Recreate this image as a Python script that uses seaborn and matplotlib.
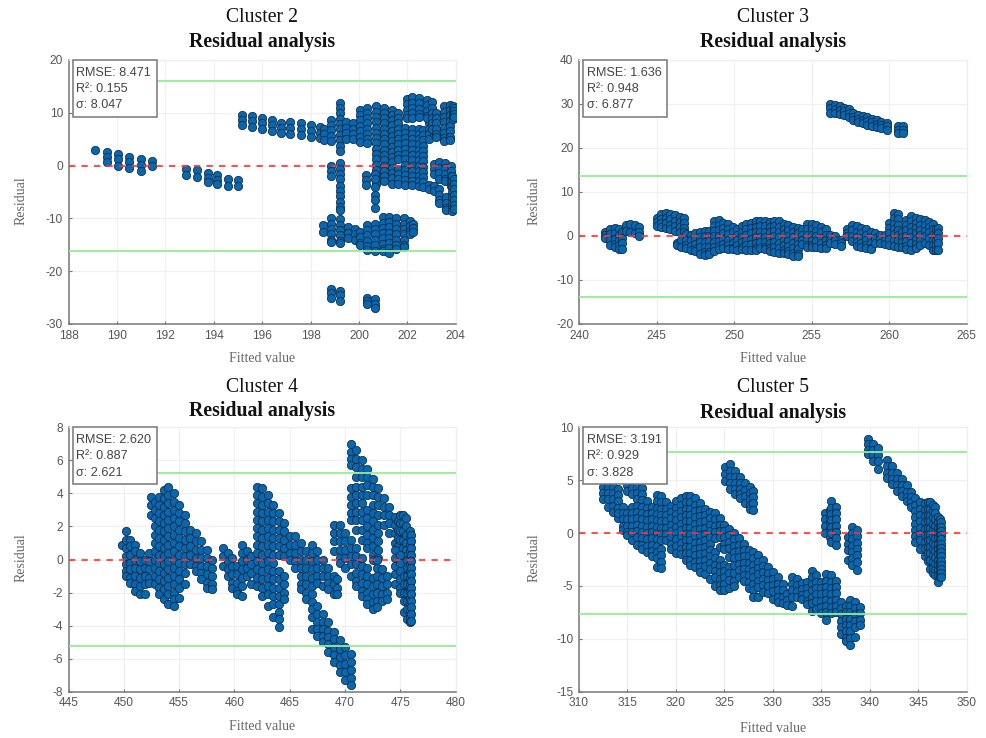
import matplotlib
matplotlib.use("Agg")
import matplotlib.pyplot as plt
from matplotlib.patches import Rectangle
import pandas as pd
import seaborn as sns

# Each entry: (fitted value, [residuals])
c2_columns = [
 (189.1,[3.0]),(189.6,[2.5,1.6,0.6]),(190.05,[2.2,1.2,0.0]),(190.5,[1.7,0.6,-0.5]),(191.0,[1.2,0.1,-1.0]),(191.45,[0.8,0.0]),
 (192.85,[-0.7,-1.7]),(193.3,[-0.8,-2.1]),(193.75,[-1.4,-2.3,-3.2]),(194.15,[-1.8,-2.7,-3.5]),(194.6,[-2.5,-3.9]),(195.0,[-2.7,-3.9]),
 (195.15,[9.6,8.6,7.7]),(195.6,[9.4,8.4,7.3]),(196.0,[9.0,8.0,7.0]),(196.4,[8.6,7.6,6.6]),(196.8,[8.1,7.1,6.2]),(197.15,[8.3,7.1,5.9]),
 (197.6,[8.0,6.9,5.8]),(198.0,[7.6,6.5,5.4]),(198.4,[7.3,6.2,5.2]),(198.55,[7.0,5.9,4.8]),(198.85,[8.7,7.7,6.7,5.6,4.6]),
 (199.2,[11.9,10.9,9.9,8.9,7.9,6.9,5.8,4.8,3.8,2.7]),(199.45,[8.3,7.2,6.1,5.0]),(199.75,[8.0,7.0,6.0,5.0]),
 (200.05,[10.6,9.6,8.6,7.5,6.5,5.5,4.5]),(200.35,[11.0,10,9,8,7,6,5,4.2]),
 (200.7,[11.2,10.2,9.2,8.2,7.2,6.2,5.2,4.2,3.2,2.2,1.2,0.2,-0.8,-1.8,-2.8,-3.5]),
 (201.05,[11.0,10,9,8,7,6,5,4,3,2,1,0,-1,-2,-3]),
 (201.35,[10.6,9.6,8.6,7.6,6.6,5.6,4.6,3.6,2.6,1.6,0.6,-0.4,-1.4,-2.4,-3.4]),
 (201.6,[10.0,9,8,7,6,5,4,3,2,1.2,-0.6,-1.6,-2.6,-3.4]),
 (201.9,[7.2,6.2,5.2,4.2,3.2,2.2,1.2,0.2,-0.8,-1.8,-2.8,-3.7]),(202.2,[7.0,6,5,4,3,2,1,0,-1,-2,-3,-3.6]),
 (202.5,[7.0,6,5,4,3,2,1,0,-1,-2,-3,-3.8]),(202.65,[6.8,5.8,4.8,3.8,2.8,1.8,0.8,-0.2,-1.2,-2.2,-3.2,-4.0]),
 (202.9,[8.0,7,6,5,-3.6,-4.5]),(203.1,[9,8,7,6,-3.8,-4.8]),(203.3,[-4.5,-5.5,-6.5,-7.0]),(203.6,[-6,-7,-8,-8.5]),
 (202.0,[12.6,11.6,10.6,9.6,9.0]),(202.2,[12.9,11.9,10.9,9.9,9.0]),(202.5,[12.8,11.8,10.8,9.8,9.2]),(202.8,[12.4,11.4,10.4,9.4,9.0]),
 (203.0,[12.0,11,10,9,8,7]),(203.2,[10,9,8,7,6,5.5]),(203.5,[11.2,10.2,9.2,8.2,7.2,6.2,5.2,4.6]),(203.75,[11.5,10.5,9.5,8.5,7.5,6.5,5.5,4.8]),
 (203.9,[11.2,10.6,10,9.4,8.8]),(203.95,[11,10.4,9.8,9.2]),
 (203.1,[0.3,-0.6,-1.5]),(203.3,[0.6,-0.4,-1.4,-2.5]),(203.55,[0.5,-0.5,-1.5,-2.5,-3.0]),(203.8,[0,-1,-2,-3,-3.8]),
 (203.85,[-2,-3,-4,-5,-6,-7,-8,-8.6]),(203.95,[-2.5,-3.5,-4.5,-5.5,-6.5,-7.5,-8.3]),
 (198.85,[0,-1,-1.9]),(199.2,[0.4,-0.6,-1.6,-2.5]),(199.2,[-3.8,-4.8,-5.8,-6.8,-7.8,-8.5]),
 (200.3,[-1.8,-2.8,-3.7]),(200.65,[-1.5,-2.5,-4.0]),(200.65,[-5.6,-6.6,-8.0]),
 (198.5,[-11.3,-12.6]),(198.85,[-10,-11,-12,-13,-14,-14.5]),(199.2,[-10.2,-11.2,-12.2,-13.2,-14.2,-14.6]),
 (199.55,[-11.7,-12.7,-13.8]),(199.85,[-12,-13,-14]),(200.05,[-12.6,-13.6,-14.6,-15]),
 (200.35,[-11.2,-12.2,-13.2,-14.2,-15.2,-16]),(200.65,[-11,-12,-13,-14,-15,-16.2]),
 (201.0,[-9.8,-10.8,-11.8,-12.8,-13.8,-14.8,-15.8,-16.2]),(201.25,[-9.7,-10.7,-11.7,-12.7,-13.7,-14.7,-15.7,-16.5]),
 (201.55,[-10,-11,-12,-13,-14,-15,-15.8]),(201.85,[-10,-11,-12,-13,-14,-15,-15.5]),(202.1,[-10.4,-11.4,-12.4,-13]),(202.25,[-11,-11.8,-12.6]),
 (198.85,[-23.4,-24.2,-25]),(199.2,[-23.7,-24.6,-25.6]),(200.35,[-25,-25.6,-26.3]),(200.65,[-25.3,-26.2,-27]),
]
c3_columns = [
 (241.7,[1,0.2,-0.5]),(242.0,[1.5,0.4,-0.8,-2]),(242.3,[1.8,0.6,-0.6,-1.8,-2.5]),(242.6,[1.5,0.3,-0.9,-2.1,-3]),(242.8,[0.8,-0.4,-1.6,-3]),
 (243.0,[2.6,1.2]),(243.3,[2.8,1.0]),(243.6,[2.5,0.6]),(243.9,[2.0,1,0]),
 (245.0,[4,3.1,2.3]),(245.3,[5,3.9,2.9,2.1]),(245.6,[5.2,4,2.9,1.8]),(245.9,[4.9,3.8,2.6,1.5]),(246.2,[4.7,3.5,2.3,1.2]),(246.5,[4.3,3.1,2,1]),(246.75,[4,2.9,1.9,0.9]),
 (246.3,[-1.7,-2]),(246.6,[-1,-2.5]),(246.9,[0.4,-0.8,-2,-2.8]),(247.2,[0.2,-1,-2.2,-3.1]),(247.5,[0.6,-0.6,-1.8,-3,-3.3]),(247.8,[1,-0.2,-1.4,-2.6,-4]),
 (248.1,[1.1,-0.1,-1.3,-2.5,-3.7,-4.3]),(248.4,[1.2,0,-1.2,-2.4,-3.6,-4]),(248.7,[3.5,2.3,1.1,-0.1,-1.3,-2.5,-3.3]),(249.0,[3.7,2.5,1.3,0.1,-1.1,-2.3,-3]),
 (249.3,[3,1.8,0.6,-0.6,-1.8,-2.8]),(249.6,[2.8,1.6,0.4,-0.8,-2,-3]),(249.9,[2,0.8,-0.4,-1.6,-2.8,-3]),(250.2,[1.5,0.3,-0.9,-2.1,-3.1]),
 (250.5,[2.2,1,-0.2,-1.4,-2.6,-3]),(250.8,[2.7,1.5,0.3,-0.9,-2.1,-3.2]),(251.1,[3,1.8,0.6,-0.6,-1.8,-3.2]),(251.4,[3.3,2.1,0.9,-0.3,-1.5,-2.7,-3.2]),
 (251.7,[3.4,2.2,1,-0.2,-1.4,-2.8]),(252.0,[3.4,2.2,1,-0.2,-1.4,-2.6,-3]),(252.3,[3.2,2,0.8,-0.4,-1.6,-2.8,-3.3]),(252.6,[3.5,2.3,1.1,-0.1,-1.3,-2.5,-3.7]),
 (252.9,[3.3,2.1,0.9,-0.3,-1.5,-2.7,-3.8]),(253.2,[2.8,1.6,0.4,-0.8,-2,-3.2,-3.8]),(253.5,[2.5,1.3,0.1,-1.1,-2.3,-3.5,-4.2]),(253.8,[2.1,0.9,-0.3,-1.5,-2.7,-3.9,-4.6]),
 (254.1,[1.8,0.6,-0.6,-1.8,-3,-4.2,-4.6]),(254.4,[1.5,0.3,-0.9,-1.8]),(254.7,[2.7,1.5,0.3,-0.9,-2.1,-2.5]),(255.0,[2.7,1.5,0.3,-0.9,-2.1,-2.6]),
 (255.3,[2.4,1.2,0,-1.2,-2.6]),(255.6,[2,0.8,-0.4,-1.6,-2.8]),(255.9,[1.5,0.3,-0.9,-2.1,-2.8]),(256.2,[0.3,-0.9,-1.5]),(256.5,[0,-1,-1.8]),(256.9,[-0.8,-1.6,-2.3]),
 (257.3,[1.5,0.7,-0.1]),(257.6,[2.5,1.3,0.1,-1.2]),(257.9,[2.2,1,-0.2,-1.4,-2.3]),(258.2,[1.9,0.7,-0.5,-1.7,-2.5]),(258.5,[1.5,0.3,-0.9,-2.1,-2.8]),(258.8,[0.9,-0.3,-1.5,-2.7,-3]),
 (259.1,[0.7,-0.5,-1.5]),(259.4,[0.3,-0.7,-1.6]),(259.7,[0.2,-0.9,-1.9]),(260.0,[3,1.8,0.6,-0.6,-2.1]),(260.3,[5.2,4,2.8,1.6,0.4,-0.8,-2.2]),(260.55,[5,3.8,2.6,1.4,0.2,-1,-2.4]),
 (260.8,[1,-0.2,-1.4,-2.6]),(261.1,[3.7,2.5,1.3,0.1,-1.1,-2.3,-2.9]),(261.4,[4.5,3.3,2.1,0.9,-0.3,-1.5,-3.1]),(261.7,[4.2,3,1.8,0.6,-0.6,-1.8,-2.7]),
 (262.0,[3.8,2.6,1.4,0.2,-1,-2]),(262.3,[3.6,2.4,1.2,0,-1.5]),(262.6,[3.2,2,0.8,-0.4,-2]),(262.85,[2.7,1.5,0.3,-0.9,-2.1,-3.2]),(263.0,[1.5,0.3,-0.9,-2.1,-3.2]),(263.15,[1.9,0.7,-0.5,-1.7,-3.2]),
 (256.2,[30,29,28]),(256.5,[29.7,28.8,27.9]),(256.8,[29.5,28.6,27.7]),(257.1,[29.2,28.3,27.4]),(257.4,[28.8,27.9,27]),(257.7,[28,27.1,26.3]),(258.0,[27.6,26.7,25.8]),
 (258.3,[27.3,26.4,25.6]),(258.6,[27,26.1,25.3]),(258.9,[26.6,25.8,25]),(259.2,[26.3,25.5,24.7]),(259.5,[26,25.2,24.5]),(259.85,[25.6,24.9,24.2]),(260.6,[25,24.2,23.4]),(260.9,[25,24.2,23.4]),
]
c4_columns = [
 (449.8,[0.9]),(450.2,[1.7,1.2,0.7,0.2,-0.3,-0.7,-1.0]),(450.6,[1.2,0.8,0.3,-0.2,-0.6,-1.1,-1.4]),(451.0,[0.9,0.5,0,-0.5,-1,-1.5,-1.9]),
 (451.5,[0.4,-0.1,-0.6,-1.1,-1.6,-2.1]),(451.9,[0,-0.5,-1,-1.5,-2.1]),(452.3,[0.4,-0.1,-0.6,-1.1,-1.4]),(452.5,[3.8,3.3,2.7]),
 (452.8,[3.5,3,2.5,2,1.5,1,0.5,0,-0.5,-1,-1.5]),(453.2,[3.8,3.3,2.8,2.3,1.8,1.3,0.8,0.3,-0.2,-0.7,-1.2,-1.7,-2.1]),
 (453.6,[4.2,3.7,3.2,2.7,2.2,1.7,1.2,0.7,0.2,-0.3,-0.8,-1.3,-1.8,-2.4]),(454.0,[4.4,3.9,3.4,2.9,2.4,1.9,1.4,0.9,0.4,-0.1,-0.6,-1.1,-1.6,-2.1,-2.7]),
 (454.5,[4,3.5,3,2.5,2,1.5,1,0.5,0,-0.5,-1,-1.5,-2,-2.4,-2.8]),(455.0,[3.3,2.8,2.3,1.8,1.3,0.8,0.3,-0.2,-0.7,-1.2,-1.7,-2.3]),(455.5,[2.7,2.2,1.7,1.2,0.7,0.2,-0.3,-0.8,-1.5]),
 (456.0,[1.8,1.3,0.8,0.3,-0.3]),(456.5,[1.6,1.1,0.6,0.1,-0.4,-0.7]),(457.0,[1.1,0.6,0.1,-0.4,-0.8,-1.2]),(457.5,[0.6,0.1,-0.4,-0.9,-1.4,-1.7]),(458.0,[0,-0.5,-1,-1.5,-1.8]),
 (459.0,[0.7,0.2,-0.4]),(459.4,[0.4,-0.1,-0.6,-1.0]),(459.8,[0.1,-0.4,-0.9,-1.4,-1.7]),(460.2,[-0.4,-0.9,-1.4,-1.9,-2.1]),(460.7,[0.9,0.4,-0.1,-0.6,-1.1,-1.6,-2.2]),
 (461.1,[0.5,0,-0.5,-1.0]),(461.5,[0.2,-0.3,-0.8,-1.5]),(462.0,[4.4,3.9,3.4,2.9,2.4,1.9,1.4,0.9,0.4,-0.1,-0.6,-1.1,-1.6]),
 (462.5,[4.3,3.8,3.3,2.8,2.3,1.8,1.3,0.8,0.3,-0.2,-0.7,-1.2,-1.7,-2.2]),(463.0,[3.9,3.4,2.9,2.4,1.9,1.4,0.9,0.4,-0.1,-0.6,-1.1,-1.6,-2.1,-2.8]),
 (463.5,[3.3,2.8,2.3,1.8,1.3,0.8,0.3,-0.2,-0.7,-1.2,-1.7,-2.2,-2.7,-3.5]),(464.0,[2.8,2.3,1.8,1.3,0.8,0.3,-0.7,-1.2,-1.7,-2.2,-2.7,-3.2,-3.6,-4.1]),
 (464.5,[2.2,1.7,1.2,0.7,0.2,-1,-1.5,-2,-2.4]),(465.0,[1.4,0.9,0.4,0]),(465.5,[1.4,0.9,0.4,-0.1,-0.5]),(466.0,[1,0.5,0,-0.5,-1,-1.5,-1.8]),
 (466.5,[0.5,0,-0.5,-1,-1.5,-2,-2.4]),(467.0,[0.9,0.4,-0.1,-0.6,-1.1,-1.6,-2.1,-2.6,-3,-3.5,-4.2]),
 (467.5,[0.5,0,-0.5,-1,-1.4]),(468.0,[0,-0.5,-1,-1.6]),(468.5,[-0.5,-1,-1.4,-1.8]),(469.0,[-1,-1.5,-2.1]),(469.3,[-1.2,-1.7,-2.1]),
 (467.5,[-2.8,-3.3,-3.8,-4.2,-4.6]),(468.0,[-3.3,-3.8,-4.2,-4.6,-5]),(468.5,[-3.8,-4.3,-4.7,-5.1,-5.6]),(469.0,[-4.4,-4.8,-5.3,-5.8,-6.2]),
 (469.5,[-4.9,-5.4,-5.9,-6.4,-6.8]),(470.0,[-5.3,-5.8,-6.3,-6.8,-7.3]),(470.5,[-5.7,-6.2,-6.7,-7.2,-7.6]),
 (469.0,[2.1,1.6,1.1,0.5]),(469.5,[2.1,1.6,1.1,0.6,0.1,-0.2]),(470.0,[1.6,1.1,0.6,0.1,-0.5]),(470.5,[1.2,0.7,0.2,-0.3,-1]),(471.0,[0.7,0.2,-0.3,-0.8,-1.3,-1.6]),
 (471.5,[0.1,-0.4,-0.9,-1.4,-1.9,-2.2]),(472.0,[-0.5,-1,-1.5,-2,-2.4,-2.7]),(472.5,[-1.1,-1.6,-2.1,-2.6,-3.0]),
 (470.5,[4.3,3.8,3.3,2.8,2.4]),(471.0,[4.4,3.9,3.4,2.9,2.4,1.8]),(471.5,[3.9,3.4,2.9,2.4,1.8,1.2]),(472.0,[3.0,2.5,2,1.5,1,0.7]),(472.5,[2.8,2.3,1.8,1.3,0.8,0.3,0]),(473.0,[2.1,1.6,1.1,0.6,0.1,-0.6]),
 (472.9,[0,-0.5,-1,-1.5,-2,-2.5,-2.9]),(473.3,[-0.6,-1.1,-1.6,-2.1,-2.5]),(473.8,[-1,-1.5,-2,-2.4]),
 (470.5,[7,6.5,6.1,5.7]),(471.0,[6.6,6.1,5.6,5]),(471.5,[6,5.5,5,4.4]),(472.0,[5.5,5,4.5,3.9]),(472.5,[4.9,4.4,3.9,3.3]),(473.0,[4.3,3.8,3.3,2.7]),(473.5,[3.7,3.2,2.7,2.1]),(474.0,[3.2,2.7,2.2,1.6]),(474.5,[2.6,2.1,1.6,1]),
 (474.75,[2.3,1.8,1.3,0.8]),(475.0,[2.7,2.2,1.7,1.2,0.5]),(475.25,[2.7,2.2,1.7,1.2,0.7,0.3]),(475.5,[2.5,2,1.5,1,0.6,0.2]),
 (474.5,[0.6,0.1,-0.4,-0.9,-1.5]),(475.0,[0.3,-0.2,-0.7,-1.2,-1.7,-2]),(475.3,[-1,-1.5,-2,-2.5,-3.2]),(475.6,[0,-0.5,-1,-1.5,-2,-2.5,-3,-3.6]),
 (475.85,[1.7,1.3,0.9,0.5,0.1,-0.3,-0.7,-1.1,-1.5,-1.9,-2.3,-2.7,-3.1,-3.5,-3.8]),(476.0,[1.5,1.1,0.7,0.3,-0.1,-0.5,-0.9,-1.3,-1.7,-2.1,-2.5,-2.9,-3.3,-3.7]),
]
c5_columns = [
 (312.5,[5,4.4,3.8,3.2]),(313.0,[5,4.4,3.8,3.2,2.5]),(313.5,[5,4.4,3.8,3.2,2.6,2]),(314.0,[4.2,3.6,3,2.4,1.4,1.9]),(314.5,[2.5,1.9,1.3,0.7,0.3]),
 (315.0,[1.9,1.3,0.7,0.1,-0.2]),(315.0,[5,4.5,4]),(315.5,[5.5,4.9,4.3,3.7,2.5,1.9,1.3,0.7,0.1,-0.7]),(316.0,[5,4.4,3.8,3.2,2.6,2,1.4,0.8,0.2,-0.4,-1.1]),
 (316.5,[4.3,3.7,3.1,2.5,1.9,1.3,0.7,0.1,-0.5,-1.1,-1.5]),(317.0,[3,2.4,1.8,1.2,0.6,0,-0.6,-1.2,-1.8]),(317.5,[2.5,1.9,1.3,0.7,0.1,-0.5,-1.1,-1.7,-2.2]),
 (318.0,[3.6,3,2.4,1.8,1.2,0.6,0,-0.6,-1.2,-1.8,-2.4,-3.2]),(318.5,[3.5,2.9,2.3,1.7,1.1,0.5,-0.1,-0.7,-1.5,-2.1,-2.7,-3.3]),(319.0,[2.9,2.3,1.7,1.1,0.5,-0.1,-0.7]),
 (319.5,[2.6,2,1.4,0.8,0.2,-0.4,-1,-1.5]),(320.0,[3,2.4,1.8,1.2,0.6,0,-0.6,-1.2,-1.9]),(320.5,[3.3,2.7,2.1,1.5,0.9,0.3,-0.3,-0.9,-1.5,-2]),
 (321.0,[3.5,2.9,2.3,1.7,1.1,0.5,-0.1,-0.7,-1.3,-1.9,-2.5]),(321.5,[3.5,2.9,2.3,1.7,1.1,0.5,-0.1,-0.7,-1.3,-1.9,-2.5,-3]),(322.0,[3.3,2.7,2.1,1.5,0.9,0.3,-0.3,-0.9,-1.5,-2.1,-2.7,-3.2]),
 (322.5,[2.8,2.2,1.6,1,0.4,-0.2,-0.8,-1.4,-2,-2.6,-3.2,-3.7]),(323.0,[2.3,1.7,1.1,0.5,-0.1,-0.7,-1.3,-1.9,-2.5,-3.1,-3.9]),(323.5,[2,1.4,0.8,0.2,-0.4,-1,-1.6,-2.2,-2.8,-3.4,-4.3]),
 (324.0,[1.9,1.3,0.7,0.1,-0.5,-1.8,-2.4,-3,-3.6,-4.2,-5]),(324.5,[1.4,0.8,0.2,-0.4,-1.3,-2.5,-3.1,-3.7,-4.3,-4.9,-5.4]),(325.0,[0.8,0.2,-0.4,-1,-1.5,-3,-3.6,-4.2,-4.8,-5.4]),
 (325.5,[0.4,-0.2,-0.8,-1.4,-2.3,-3.2,-3.8,-4.4,-5.2]),(326.0,[0,-0.6,-1.2,-1.8,-2.4,-3,-3.8,-4.5,-5]),(326.5,[-0.5,-1.1,-1.7,-2.3,-2.9,-3.5,-4.2]),(327.0,[-1,-1.6,-2.2,-2.8,-3.4,-4,-4.5]),
 (327.5,[-1.6,-2.2,-2.8,-3.4,-4,-4.6,-5.2]),(328.0,[-1.8,-2.4,-3,-3.6,-4.2,-4.8,-5.4,-6]),(328.5,[-2.1,-2.7,-3.3,-3.9,-4.5,-5.1,-6]),(329.0,[-2.5,-3.1,-3.7,-4.3,-4.9,-5.6]),
 (329.5,[-3.2,-3.8,-4.4,-5,-5.7]),(330.0,[-3.7,-4.3,-4.9,-5.5,-6.2]),(330.5,[-4.2,-4.8,-5.4,-6,-6.5]),(331.0,[-4.8,-5.4,-6,-6.6]),(331.5,[-5.8,-6.3,-6.8]),
 (332.0,[-4.2,-4.8,-5.4,-6,-6.9]),(332.5,[-4.3,-4.9,-5.5,-6]),(333.0,[-4.7,-5.3,-5.9,-6.2]),(333.5,[-4.6,-5.2,-5.8,-6.4,-6.7]),(334.0,[-3.6,-4.2,-4.8,-5.4,-6,-6.6,-7.4]),
 (334.5,[-4,-4.6,-5.2,-5.8,-6.4,-7.2]),(335.0,[-4.6,-5.2,-5.8,-6.4,-7,-7.6]),(335.5,[-3.9,-4.5,-5.1,-5.7,-6.3,-6.9,-7.5,-8.2]),(336.0,[-4,-4.6,-5.2,-5.8,-6.4,-7,-7.6]),(336.5,[-4.5,-5.1,-5.7,-6.3,-6.9,-7.5]),
 (337.0,[-6.5,-7.1,-7.7,-8.3,-8.9,-9.5]),(337.5,[-6.9,-7.5,-8.1,-8.7,-9.3,-9.9,-10.2]),(338.0,[-6.3,-6.9,-7.5,-8.1,-8.7,-9.3,-9.9,-10.6]),(338.5,[-6.5,-7.1,-7.7,-8.3,-8.9,-9.8]),(339.0,[-7,-7.6,-8.2,-8.7]),
 (325.1,[6.2,5.6,4.9]),(325.6,[6.5,5.9,5.3,4.7,4.2]),(326.1,[5.9,5.3,4.7,4.2,3.7]),(326.6,[5.3,4.7,4.2,3.7,3.3]),(327.1,[4.7,4.1,3.5,2.8]),(327.6,[4.4,3.8,3.2,2.7,2.3]),(328.0,[4,3.4,2.8,2.2]),
 (335.4,[1.9,1.3,0.7,0]),(335.9,[2.2,1.6,1,0.4,-0.4]),(336.0,[3,2.4,1.8,1.2,0.6,0,-0.8]),(336.5,[2.5,1.9,1.3,0.7,0.1,-0.5,-1.1]),
 (337.8,[-0.4,-1,-1.6,-2.5]),(338.2,[0.6,0,-0.6,-1.2,-1.8,-2.4,-3]),(338.7,[0.3,-0.3,-0.9,-1.5,-2.1,-2.7,-3.5]),
 (339.8,[8.9,8.4,7.9,7.5]),(340.3,[8.4,7.9,7.4,6.8]),(340.8,[8,7.4,6.8,6.1]),
 (341.8,[6.9,6.3,5.7,5.2]),(342.3,[6.3,5.7,5.1,4.6]),(342.8,[5.7,5.1,4.5,4]),(343.3,[5.1,4.5,4,3.5]),(343.8,[4.5,3.9,3.4,3]),(344.3,[3.9,3.4,2.9,2.5]),
 (344.7,[3.3,2.7,2.1,1.5,0.9,0.3,-0.3,-0.8]),(345.2,[2.9,2.3,1.7,1.1,0.5,-0.1,-0.7,-1.5]),(345.7,[2.8,2.2,1.6,1,0.4,-0.2,-0.8,-1.4,-2.2]),
 (346.0,[2.9,2.3,1.7,1.1,0.5,-0.1,-0.7,-1.3,-1.9,-2.6]),(346.2,[2.9,2.3,1.7,1.1,0.5,-0.1,-0.7,-1.3,-1.9,-2.5,-3.4]),(346.5,[2.7,2.1,1.5,0.9,0.3,-0.3,-0.9,-1.5,-2.1,-2.7,-3.3,-3.8]),
 (346.7,[2.5,1.9,1.3,0.7,0.1,-0.5,-1.1,-1.7,-2.3,-2.9,-3.5,-4]),(347.0,[1.5,1,0.5,0,-0.5,-1,-1.5,-2,-2.5,-3,-3.5,-4,-4.6]),(347.2,[1.3,0.8,0.3,-0.2,-0.7,-1.2,-1.7,-2.2,-2.7,-3.2,-3.7,-4.2]),
 (347.4,[1,0.6,0.2,-0.2,-0.6,-1,-1.4,-1.8,-2.2,-2.6,-3,-3.4,-3.8,-4.2]),
]

titles = ["Cluster 2", "Cluster 3", "Cluster 4", "Cluster 5"]
x_ticks = [[188,190,192,194,196,198,200,202,204], [240,245,250,255,260,265], [445,450,455,460,465,470,475,480], [310,315,320,325,330,335,340,345,350]]
y_ticks = [[-30,-20,-10,0,10,20], [-20,-10,0,10,20,30,40], [-8,-6,-4,-2,0,2,4,6,8], [-15,-10,-5,0,5,10]]
rmse = ["8.471", "1.636", "2.620", "3.191"]
r2 = ["0.155", "0.948", "0.887", "0.929"]
sigma = ["8.047", "6.877", "2.621", "3.828"]
limit = [16.09, 13.75, 5.24, 7.66]
upper_start = [0.228, 0.0, 0.228, 0.228]
columns = [c2_columns, c3_columns, c4_columns, c5_columns]

W, H = 987, 738
sns.set_theme(style="white")
SERIF = ["Liberation Serif", "DejaVu Serif"]
SANS = ["Liberation Sans", "DejaVu Sans"]
plt.rcParams["font.family"] = SANS
plt.rcParams["axes.unicode_minus"] = False

fig = plt.figure(figsize=(W / 100, H / 100), dpi=100)
boxes = [(68.5, 60, 455.7, 324), (579, 60, 966.7, 324), (68.5, 427.3, 455.7, 691.7), (579, 427.3, 966.7, 691.7)]
title_y = [(17, 42), (17, 42), (387, 411), (388, 413)]
xlab_y = [359, 359, 727, 729]
ylab_y = [201, 201, 558, 558]
ylab_x = [21, 534, 21, 534]
FACE, EDGE, GREY = "#0a66ad", "#0c2a45", "#555555"

def fx(px): return px / W
def fy(py): return 1 - py / H

for i in range(4):
    L, T, R, B = boxes[i]
    ax = fig.add_axes([fx(L), fy(B), (R - L) / W, (B - T) / H])
    rows = [(x, y) for x, ys in columns[i] for y in ys]
    df = pd.DataFrame(rows, columns=["fitted", "residual"])
    sns.scatterplot(data=df, x="fitted", y="residual", s=36, color=FACE,
                    edgecolor=EDGE, linewidth=0.55, ax=ax, zorder=3, clip_on=True, legend=False)
    ax.axhline(0, color="#ff3535", lw=1.5, dashes=(3, 3), zorder=4, alpha=0.85)
    ax.axhline(limit[i], xmin=upper_start[i], color="#93ee93", lw=1.3, zorder=4)
    ax.axhline(-limit[i], color="#93ee93", lw=1.3, zorder=4)
    ax.set_xlim(x_ticks[i][0], x_ticks[i][-1])
    ax.set_ylim(y_ticks[i][0], y_ticks[i][-1])
    ax.set_xticks(x_ticks[i])
    ax.set_yticks(y_ticks[i])
    ax.grid(True, color="#f0f0f0", lw=0.9)
    ax.set_axisbelow(True)
    ax.set_xlabel("")
    ax.set_ylabel("")
    ax.tick_params(direction="in", length=2.5, width=0.8, color="#777777", labelcolor=GREY, labelsize=8.6, pad=4, bottom=True, left=True)
    for side in ("left", "bottom"):
        ax.spines[side].set_color("#777777")
        ax.spines[side].set_linewidth(1.1)
    for side in ("top", "right"):
        ax.spines[side].set_color("#eeeeee")
        ax.spines[side].set_linewidth(0.9)
    cx = (L + R) / 2
    fig.text(fx(cx), fy(title_y[i][0]), titles[i], family=SERIF, fontsize=14.2, color="#111111", ha="center", va="center")
    fig.text(fx(cx), fy(title_y[i][1]), "Residual analysis", family=SERIF, fontsize=14.2, weight="bold", color="#111111", ha="center", va="center")
    fig.text(fx(cx), fy(xlab_y[i]), "Fitted value", family=SERIF, fontsize=10, color="#666666", ha="center", va="center")
    fig.text(fx(ylab_x[i]), fy(ylab_y[i]), "Residual", family=SERIF, fontsize=10, color="#666666", rotation=90, ha="center", va="center")
    bl, bt = L + 4.2, T
    rect = Rectangle((fx(bl), fy(bt + 57)), 84 / W, 57 / H, transform=fig.transFigure,
                     facecolor="white", edgecolor="#777777", lw=1.1, zorder=6, clip_on=False)
    ax.add_patch(rect)
    for dy, s in zip((12.5, 29, 45.5), (f"RMSE: {rmse[i]}", f"R²: {r2[i]}", f"σ: {sigma[i]}")):
        ax.text(fx(bl + 3.5), fy(bt + dy), s, transform=fig.transFigure, fontsize=9.1, color="#444444",
                ha="left", va="center", zorder=7, clip_on=False)

fig.savefig("out.png", dpi=100, facecolor="white")
